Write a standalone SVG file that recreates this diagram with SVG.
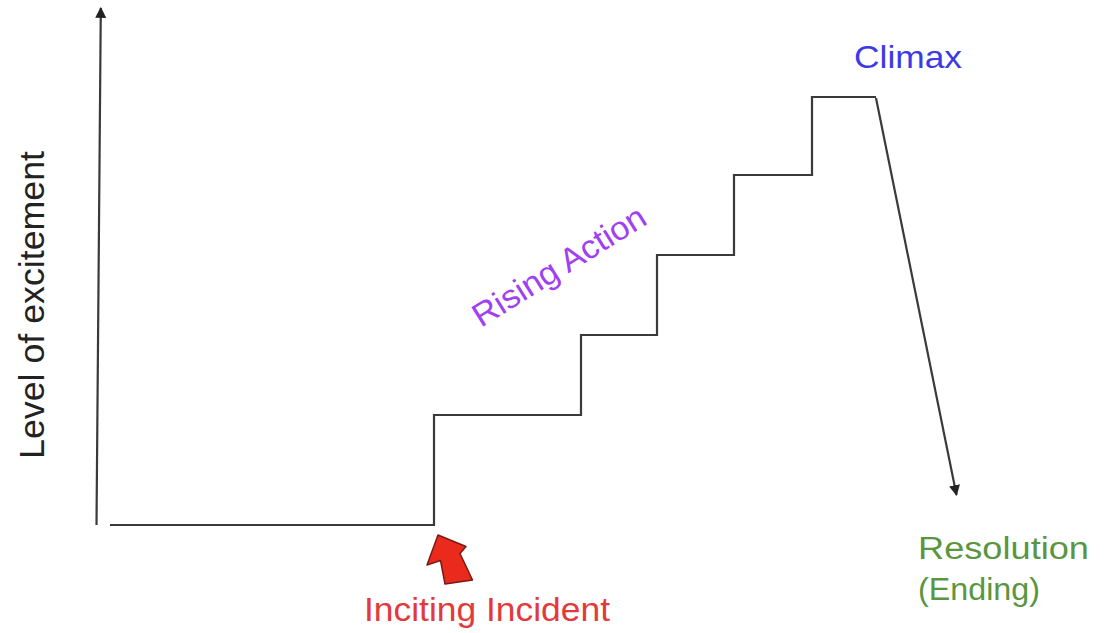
<svg xmlns="http://www.w3.org/2000/svg" width="1106" height="633" viewBox="0 0 1106 633">
  <style>
    .ln { fill: none; stroke: #3a3a3a; stroke-width: 2.2; stroke-linejoin: miter; }
    .lbl { font-family: "Liberation Sans", Arial, sans-serif; }
  </style>
  <defs>
    <marker id="head" viewBox="0 0 10 10" refX="9" refY="5" markerWidth="5" markerHeight="5" orient="auto" markerUnits="strokeWidth">
      <path d="M0,0 L10,5 L0,10 Z" fill="#222"/>
    </marker>
  </defs>
  <rect width="1106" height="633" fill="#fff"/>

  <g id="connectors">
    <!-- vertical axis -->
    <line class="ln" x1="96.5" y1="525" x2="100.8" y2="8" marker-end="url(#head)"/>
    <!-- flat start, stepped rising action, climax plateau -->
    <polyline class="ln" points="110,525 434,525 434,415 581,415 581,335 657,335 657,255 734,255 734,175 812,175 812,97 876,97"/>
    <!-- falling action toward resolution -->
    <line class="ln" x1="876" y1="98" x2="956.5" y2="495" marker-end="url(#head)"/>
  </g>

  <g id="axis-label">
    <text class="lbl" transform="translate(44,459) rotate(-90)" font-size="35" fill="#222" textLength="308" lengthAdjust="spacingAndGlyphs">Level of excitement</text>
  </g>

  <g id="inciting-incident">
    <polygon points="438,535 427,565 440.5,560.5 445,584 472.5,580 460,553.5 466,546.5" fill="#ea2a1c" stroke="#7a1a14" stroke-width="1.5" stroke-linejoin="round"/>
    <text class="lbl" x="364" y="621" font-size="33" fill="#e23a3a" textLength="246" lengthAdjust="spacingAndGlyphs">Inciting Incident</text>
  </g>

  <g id="rising-action">
    <text class="lbl" transform="translate(481,328) rotate(-32)" font-size="33" fill="#a040f2" textLength="198" lengthAdjust="spacingAndGlyphs">Rising Action</text>
  </g>

  <g id="climax">
    <text class="lbl" x="854" y="68" font-size="32" fill="#3c3ae6" textLength="108" lengthAdjust="spacingAndGlyphs">Climax</text>
  </g>

  <g id="resolution">
    <text class="lbl" x="918" y="559" font-size="31" fill="#5a9640" textLength="171" lengthAdjust="spacingAndGlyphs">Resolution</text>
    <text class="lbl" x="918" y="600" font-size="31" fill="#5a9640" textLength="122" lengthAdjust="spacingAndGlyphs">(Ending)</text>
  </g>
</svg>
